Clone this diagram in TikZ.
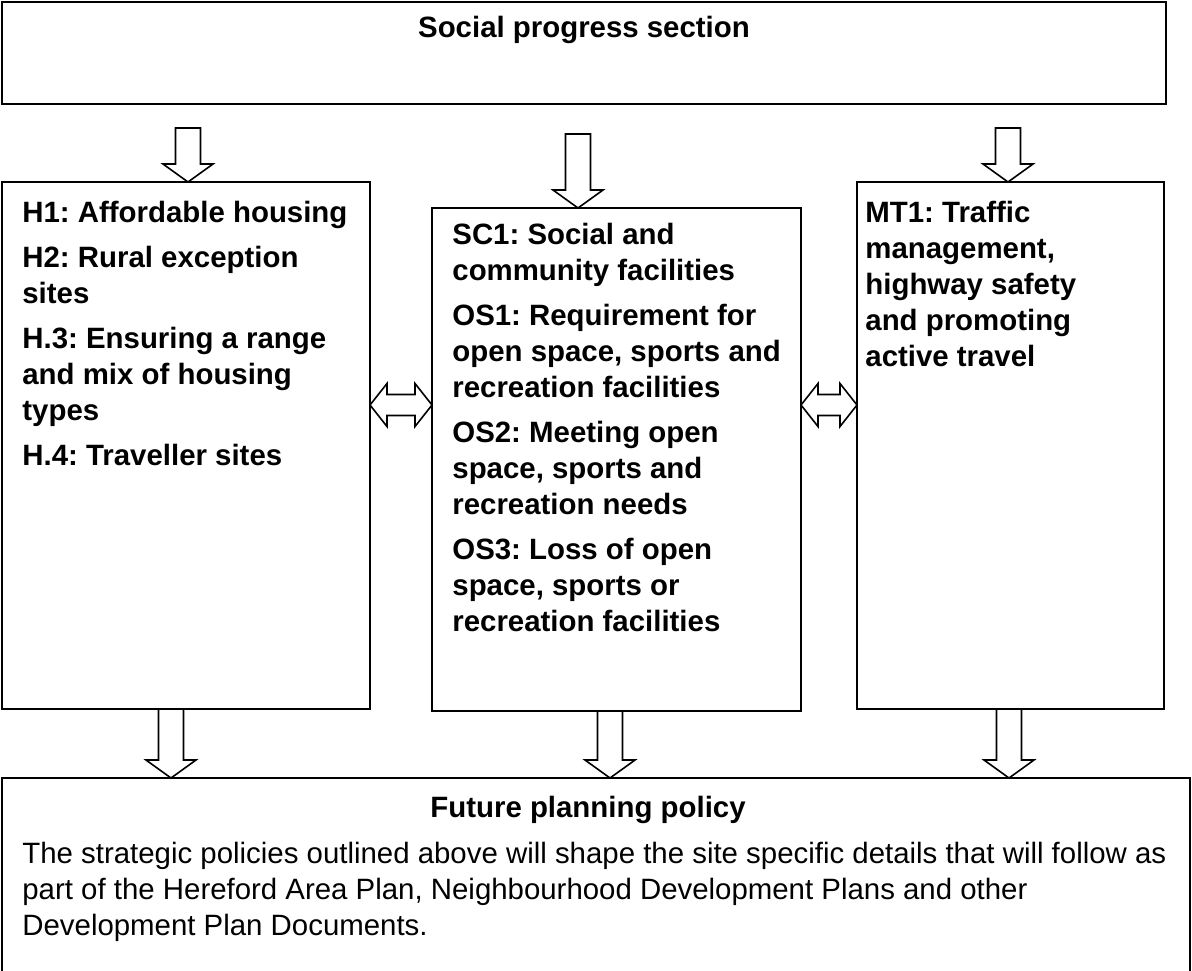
\documentclass[tikz,border=0pt]{standalone}
\usepackage{fontspec}
\setmainfont{Liberation Sans}
\frenchspacing
\usetikzlibrary{calc}

% hollow block arrows: shaft start, tip
\newcommand{\downblock}[2]{%
  \draw[blockarrow] let \p1 = #1, \p2 = #2 in
    (\x2-6.25pt,\y1) -- (\x2+6.25pt,\y1) -- (\x2+6.25pt,\y2+9pt)
    -- (\x2+12.5pt,\y2+9pt) -- (\x2,\y2) -- (\x2-12.5pt,\y2+9pt)
    -- (\x2-6.25pt,\y2+9pt) -- cycle;}
\newcommand{\bothblock}[2]{%
  \draw[blockarrow] let \p1 = #1, \p2 = #2 in
    (\x1,\y1) -- (\x1+8.5pt,\y1+10.75pt) -- (\x1+8.5pt,\y1+5.25pt)
    -- (\x2-8.5pt,\y1+5.25pt) -- (\x2-8.5pt,\y1+10.75pt) -- (\x2,\y1)
    -- (\x2-8.5pt,\y1-10.75pt) -- (\x2-8.5pt,\y1-5.25pt)
    -- (\x1+8.5pt,\y1-5.25pt) -- (\x1+8.5pt,\y1-10.75pt) -- cycle;}

\begin{document}
\begin{tikzpicture}[x=0.5pt, y=-0.5pt,
    box/.style={draw, line width=0.9pt, anchor=north west,
      inner sep=0pt, outer sep=0pt},
    policy/.style={anchor=north west, inner sep=0pt, align=left,
      font=\fontsize{14.7}{18}\selectfont\bfseries},
    heading/.style={inner sep=0pt, font=\fontsize{14.7}{18}\selectfont\bfseries},
    blockarrow/.style={draw, line width=0.8pt, fill=white, line join=miter}]

  \useasboundingbox (0,0) rectangle (1192,970);

  % boxes
  \node[box, minimum width=582pt, minimum height=51pt] (top) at (2,2) {};
  \node[box, minimum width=184pt, minimum height=263.5pt] (left) at (2,182) {};
  \node[box, minimum width=184.5pt, minimum height=251.5pt] (mid) at (432,208) {};
  \node[box, minimum width=153.5pt, minimum height=263.5pt] (right) at (857,182) {};
  \node[box, minimum width=594pt, minimum height=106pt] (bottom) at (2,778) {};

  % texts
  \node[heading] (title) at (584,30) {Social progress section};
  \node[policy] (lefttxt) at ([shift={(20,19)}]left.north west)
    {H1: Affordable housing\\[4.5pt]
     H2: Rural exception\\ sites\\[4.5pt]
     H.3: Ensuring a range\\ and mix of housing\\ types\\[4.5pt]
     H.4: Traveller sites};
  \node[policy] (midtxt) at ([shift={(20,15)}]mid.north west)
    {SC1: Social and\\ community facilities\\[4.5pt]
     OS1: Requirement for\\ open space, sports and\\ recreation facilities\\[4.5pt]
     OS2: Meeting open\\ space, sports and\\ recreation needs\\[4.5pt]
     OS3: Loss of open\\ space, sports or\\ recreation facilities};
  \node[policy] (righttxt) at ([shift={(8,19)}]right.north west)
    {MT1: Traffic\\ management,\\ highway safety\\ and promoting\\ active travel};
  \node[heading] (future) at (588,810) {Future planning policy};
  \node[policy, font=\fontsize{14.7}{18}\selectfont] (futuretxt) at (22,842)
    {The strategic policies outlined above will shape the site specific details that will follow as\\
     part of the Hereford Area Plan, Neighbourhood Development Plans and other\\
     Development Plan Documents.};

  % arrows into the three policy boxes
  \coordinate (a1) at (188,128);
  \coordinate (a2) at (578,134);
  \coordinate (a3) at (1008,128);
  \downblock{(a1)}{(a1 |- left.north)}
  \downblock{(a2)}{(a2 |- mid.north)}
  \downblock{(a3)}{(a3 |- right.north)}

  % links between the policy boxes
  \coordinate (l) at (0,405);
  \bothblock{(l -| left.east)}{(l -| mid.west)}
  \bothblock{(l -| mid.east)}{(l -| right.west)}

  % arrows into future planning policy
  \coordinate (b1) at (171,0);
  \coordinate (b2) at (610,0);
  \coordinate (b3) at (1009,0);
  \downblock{(b1 |- left.south)}{(b1 |- bottom.north)}
  \downblock{(b2 |- mid.south)}{(b2 |- bottom.north)}
  \downblock{(b3 |- right.south)}{(b3 |- bottom.north)}
\end{tikzpicture}
\end{document}
